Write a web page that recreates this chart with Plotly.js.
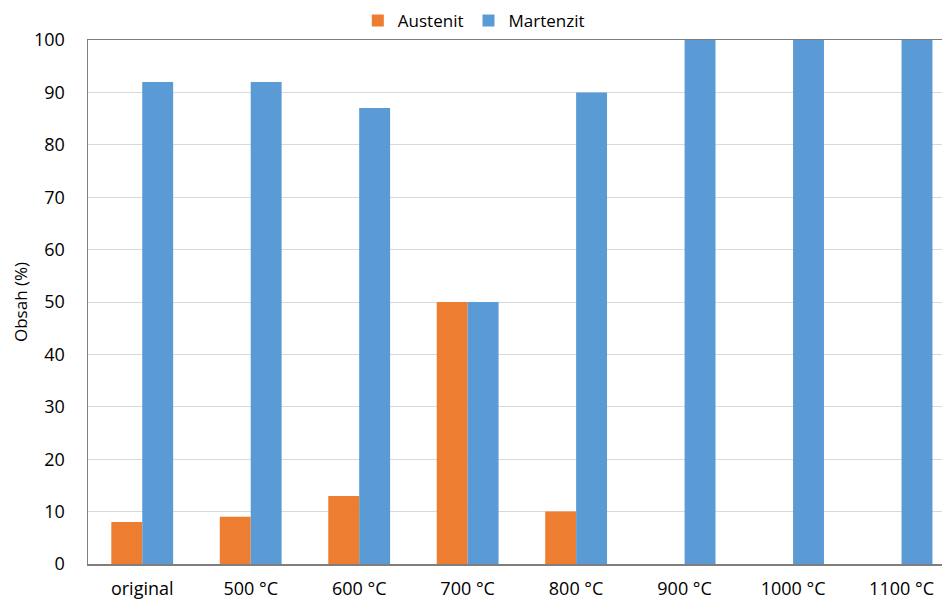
<!DOCTYPE html>
<html>
<head>
<meta charset="utf-8">
<script src="https://cdn.plot.ly/plotly-3.0.1.min.js"></script>
<style>html,body{margin:0;padding:0;background:#fff;}#chart{width:942px;height:600px;}</style>
</head>
<body>
<div id="chart"></div>
<script>
const categories = ["original", "500 °C", "600 °C", "700 °C", "800 °C", "900 °C", "1000 °C", "1100 °C"];
const austenit = [8, 9, 13, 50, 10, 0, 0, 0];
const martenzit = [92, 92, 87, 50, 90, 100, 100, 100];
const yTicks = [0, 10, 20, 30, 40, 50, 60, 70, 80, 90, 100];

const fam = "Open Sans, Noto Sans, sans-serif";
const font = {family: fam, size: 18, color: "#000"};

const data = [
  {type: "bar", name: "Austenit", x: categories, y: austenit, marker: {color: "#ED7D31"}},
  {type: "bar", name: "Martenzit", x: categories, y: martenzit, marker: {color: "#5B9BD5"}}
];

const layout = {
  width: 942, height: 600,
  margin: {l: 88, r: 0, t: 40, b: 36},
  paper_bgcolor: "#fff", plot_bgcolor: "#fff",
  font: font,
  barmode: "group",
  bargap: 0.43,
  bargroupgap: 0,
  showlegend: true,
  legend: {orientation: "h", xref: "container", yref: "container", x: 0.503, xanchor: "center", y: 0.995, yanchor: "top", font: {family: fam, size: 17}, itemwidth: 30, traceorder: "normal"},
  xaxis: {
    type: "category", range: [-0.5, 7.373], showline: true, linecolor: "#7f7f7f", linewidth: 1.5, mirror: true,
    ticks: "", tickfont: {family: fam, size: 18}, showgrid: false, automargin: false, ticklabelstandoff: 8
  },
  yaxis: {
    range: [0, 100], tickvals: yTicks, ticktext: yTicks.map(String), showline: true, linecolor: "#7f7f7f", linewidth: 1.5, mirror: true,
    gridcolor: "#D9D9D9", ticks: "", tickfont: {family: fam, size: 18}, zeroline: false,
    title: {text: "Obsah (%)", font: {family: fam, size: 17}, standoff: 2}, automargin: false, ticklabelstandoff: 18
  }
};

Plotly.newPlot("chart", data, layout, {displayModeBar: false, staticPlot: true});
</script>
</body>
</html>
